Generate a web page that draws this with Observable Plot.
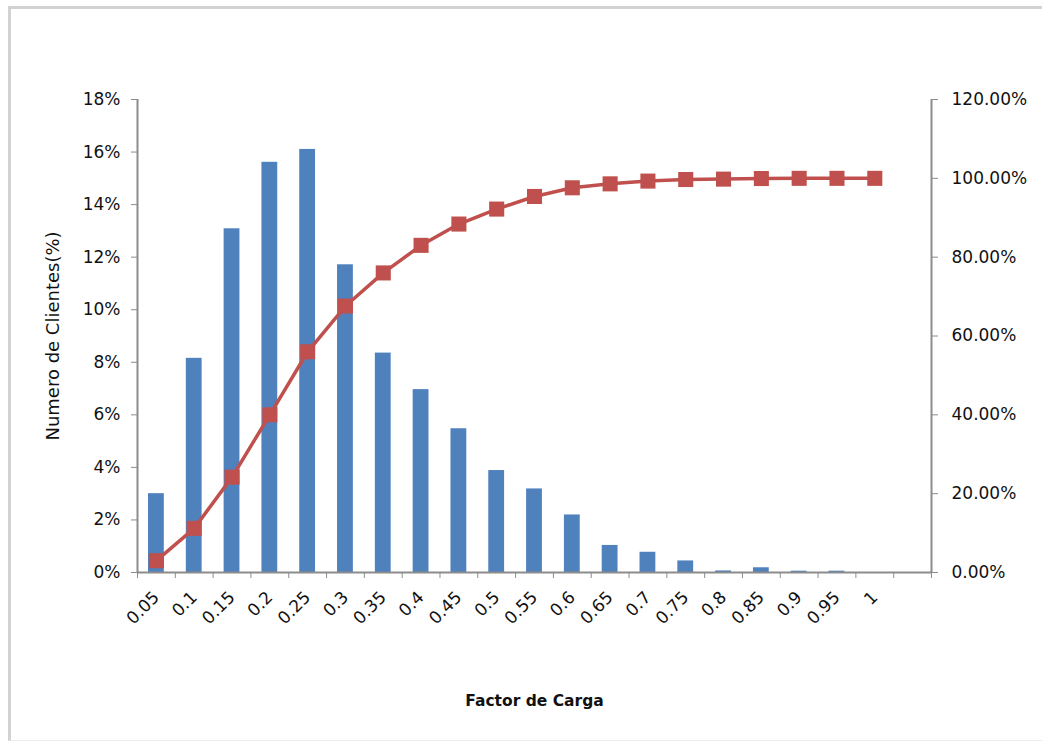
<!DOCTYPE html>
<html>
<head>
<meta charset="utf-8">
<script src="https://cdn.jsdelivr.net/npm/d3@7"></script>
<script src="https://cdn.jsdelivr.net/npm/@observablehq/plot@0.6"></script>
<style>
  html, body { margin: 0; padding: 0; background: #fff; }
  #wrap { position: relative; width: 1042px; height: 741px; overflow: hidden; }
  #frame {
    position: absolute; left: 8px; top: 6px; width: 1100px; height: 731px;
    border: 3px solid #d2d2d2; border-right: none; border-bottom: 1px solid #ececec;
  }
  #chart { position: absolute; left: 0; top: 0; }
</style>
</head>
<body>
<div id="wrap">
  <div id="frame"></div>
  <div id="chart"></div>
</div>
<script>
// Factor de carga (class upper bounds)
const cargas = ["0.05","0.1","0.15","0.2","0.25","0.3","0.35","0.4","0.45","0.5",
                "0.55","0.6","0.65","0.7","0.75","0.8","0.85","0.9","0.95","1"];
// Share of customers in each class (%)
const clientes = [3.0, 8.15, 13.08, 15.61, 16.1, 11.71, 8.35, 6.96, 5.47, 3.88,
                  3.18, 2.19, 1.03, 0.77, 0.44, 0.06, 0.18, 0.05, 0.05, 0];
// Cumulative share (%)
const acumulado = [3.0, 11.2, 24.2, 40.0, 56.0, 67.6, 76.0, 83.0, 88.4, 92.2,
                   95.4, 97.6, 98.6, 99.3, 99.7, 99.8, 99.95, 100, 100, 100];
// Left axis ticks (%) and right axis ticks (%)
const ticksIzq = [0, 2, 4, 6, 8, 10, 12, 14, 16, 18];
const ticksDer = [0, 20, 40, 60, 80, 100, 120];

const nBandas = cargas.length + 1;       // one empty band after "1"
const escala = 18 / 120;                 // right axis -> left axis units

const datos = cargas.map((c, i) => ({i, carga: c, pct: clientes[i], acum: acumulado[i] * escala}));

const azul = "#4F81BD", rojo = "#C0504D", gris = "#8c8c8c";
const fuente = "'DejaVu Sans', sans-serif";

const chart = Plot.plot({
  width: 1042,
  height: 741,
  marginLeft: 137,
  marginRight: 111,
  marginTop: 99,
  marginBottom: 169,
  style: {fontFamily: fuente, fontSize: "17px", color: "#111", background: "transparent"},
  x: {type: "linear", domain: [0, nBandas]},
  y: {domain: [0, 18]},
  marks: [
    Plot.rectY(datos, {x1: "i", x2: d => d.i + 1, y: "pct", fill: azul, insetLeft: 11, insetRight: 11}),
    // axis lines
    Plot.ruleX([0, nBandas], {stroke: gris, strokeWidth: 2}),
    Plot.ruleY([0], {stroke: gris, strokeWidth: 2}),
    // left axis
    Plot.axisY({anchor: "left", ticks: ticksIzq, tickFormat: d => d + "%", tickSize: 6, tickPadding: 11,
                stroke: gris, label: null, fontSize: 17}),
    // right axis (cumulative)
    Plot.axisY({anchor: "right", ticks: ticksDer.map(v => v * escala),
                tickFormat: d => (d / escala).toFixed(2) + "%", tickSize: 6, tickPadding: 14,
                stroke: gris, label: null, fontSize: 17}),
    // x tick marks at band boundaries
    Plot.axisX({ticks: d3.range(0, nBandas + 1), tickFormat: () => "", tickSize: 6, stroke: gris, label: null}),
    // x labels at band centres
    Plot.axisX({ticks: cargas.map((c, i) => i + 0.5), tickFormat: d => cargas[Math.floor(d)],
                tickSize: 0, tickPadding: 22, tickRotate: -45, label: null, fontSize: 17}),
    // cumulative line
    Plot.line(datos, {x: d => d.i + 0.5, y: "acum", stroke: rojo, strokeWidth: 3.5}),
    Plot.dot(datos, {x: d => d.i + 0.5, y: "acum", symbol: "square", r: 8.5, fill: rojo, stroke: "none"}),
    // axis titles
    Plot.text(["Numero de Clientes(%)"], {frameAnchor: "left", textAnchor: "middle", dx: -84, rotate: -90,
                                          fontSize: 18, fill: "#111"}),
    Plot.text(["Factor de Carga"], {frameAnchor: "bottom", dy: 133, fontSize: 15.5, fontWeight: "bold", fill: "#111"})
  ]
});
document.getElementById("chart").appendChild(chart);
</script>
</body>
</html>
